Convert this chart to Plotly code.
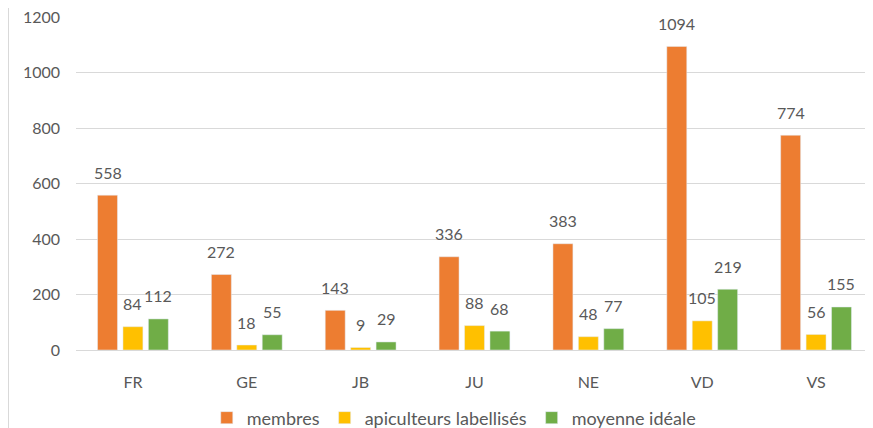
import plotly.graph_objects as go

categories = ["FR", "GE", "JB", "JU", "NE", "VD", "VS"]
membres = [558, 272, 143, 336, 383, 1094, 774]
apiculteurs = [84, 18, 9, 88, 48, 105, 56]
moyenne = [112, 55, 29, 68, 77, 219, 155]

series = [
    ("membres", membres, "#ED7D31"),
    ("apiculteurs labellisés", apiculteurs, "#FFC000"),
    ("moyenne idéale", moyenne, "#70AD47"),
]

FONT = "Lato, 'Liberation Sans', sans-serif"
TXT = "#595959"

# the page body adds an 8px offset, so the figure is 8px smaller than the window
W, H = 865, 420
ML, MR, MT, MB = 68, 0, 9, 78
BARGAP, GROUPGAP = 0.33, 0.215
PW = W - ML - MR

fig = go.Figure()
for name, vals, col in series:
    fig.add_trace(go.Bar(name=name, x=categories, y=vals, marker_color=col, cliponaxis=False))

# data labels above each bar, positioned via the axes
step = PW / len(categories)
slot = step * (1 - BARGAP) / len(series)
annotations = []
for i, (name, vals, col) in enumerate(series):
    for c, v in zip(categories, vals):
        annotations.append(dict(
            x=c, y=v, xref="x", yref="y", text=str(v), showarrow=False,
            xshift=(i - (len(series) - 1) / 2) * slot, yshift=23, yanchor="middle",
            font=dict(family=FONT, size=16, color=TXT),
        ))

fig.update_layout(
    width=W, height=H,
    margin=dict(l=ML, r=MR, t=MT, b=MB, autoexpand=False),
    paper_bgcolor="white", plot_bgcolor="white",
    barmode="group", bargap=BARGAP, bargroupgap=GROUPGAP,
    font=dict(family=FONT, size=16, color=TXT),
    showlegend=True,
    legend=dict(orientation="h", x=0.474, xanchor="center", y=-0.204, yanchor="middle",
                font=dict(family=FONT, size=18, color=TXT), itemwidth=30,
                traceorder="normal"),
    xaxis=dict(showgrid=False, showline=False, ticks="", tickfont=dict(size=16, color=TXT),
               ticklabelstandoff=21, automargin=False),
    yaxis=dict(range=[0, 1200], dtick=200, showgrid=True, gridcolor="#D9D9D9", gridwidth=1,
               zeroline=True, zerolinecolor="#D9D9D9", zerolinewidth=1,
               showline=False, ticks="", tickfont=dict(size=16, color=TXT),
               ticklabelstandoff=15, ticklabeloverflow="allow", automargin=False),
    annotations=annotations,
    shapes=[dict(type="line", xref="paper", yref="paper",
                 x0=-(ML - 0.5) / PW, x1=-(ML - 0.5) / PW, y0=-0.3, y1=1.1,
                 line=dict(color="#D9D9D9", width=1))],
)

fig.write_html("out.html")
